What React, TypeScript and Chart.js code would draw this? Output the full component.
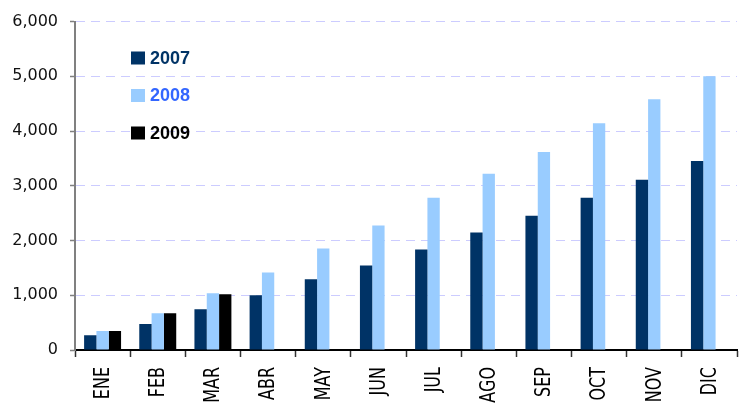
import React, { useEffect, useRef } from "react";
import { Chart, registerables } from "chart.js";

Chart.register(...registerables);

const categories = ["ENE", "FEB", "MAR", "ABR", "MAY", "JUN", "JUL", "AGO", "SEP", "OCT", "NOV", "DIC"];
const series2007 = [270, 473, 745, 1000, 1291, 1545, 1836, 2145, 2455, 2782, 3109, 3455];
const series2008 = [345, 673, 1036, 1418, 1855, 2273, 2782, 3218, 3618, 4145, 4582, 5000];
const series2009 = [345, 673, 1018, null, null, null, null, null, null, null, null, null];
const seriesLabels = ["2007", "2008", "2009"];
const seriesColors = ["#003366", "#99ccff", "#000000"];
const legendTextColors = ["#003366", "#3366ff", "#000000"];
const yTicks = [0, 1000, 2000, 3000, 4000, 5000, 6000];

const legendPlugin = {
  id: "insideLegend",
  afterDraw(chart: any) {
    const ctx = chart.ctx;
    ctx.save();
    chart.data.datasets.forEach((ds: any, i: number) => {
      const cy = 58 + i * 37.5;
      ctx.fillStyle = ds.backgroundColor;
      ctx.fillRect(131, cy - 6.5, 14, 13);
      ctx.fillStyle = legendTextColors[i];
      ctx.font = "bold 18px 'Liberation Sans', Arial, sans-serif";
      ctx.textAlign = "left";
      ctx.textBaseline = "middle";
      ctx.fillText(ds.label, 150, cy + 1);
    });
    ctx.restore();
  },
};

const xLabelPlugin = {
  id: "stretchedXLabels",
  afterDraw(chart: any) {
    const ctx = chart.ctx;
    const xs = chart.scales.x;
    const top = chart.chartArea.bottom + 17;
    ctx.save();
    ctx.fillStyle = "#000000";
    ctx.font = "16px 'DejaVu Sans', sans-serif";
    chart.data.labels.forEach((lab: string, i: number) => {
      const x = xs.getPixelForTick(i) + 1;
      ctx.save();
      ctx.translate(x, top);
      ctx.rotate(-Math.PI / 2);
      ctx.scale(1, 1.3);
      ctx.textAlign = "right";
      ctx.textBaseline = "middle";
      ctx.fillText(lab, 0, 0);
      ctx.restore();
    });
    ctx.restore();
  },
};

export default function App() {
  const ref = useRef<HTMLCanvasElement | null>(null);
  useEffect(() => {
    document.body.style.margin = "0";
    if (!ref.current) return;
    const chart = new Chart(ref.current, {
      type: "bar",
      data: {
        labels: categories,
        datasets: [series2007, series2008, series2009].map((d, i) => ({
          label: seriesLabels[i],
          data: d as any,
          backgroundColor: seriesColors[i],
          borderWidth: 0,
          categoryPercentage: 0.67,
          barPercentage: 1.0,
        })),
      },
      options: {
        responsive: false,
        animation: false,
        layout: { padding: { top: 20, right: 2, left: 0, bottom: 0 } },
        plugins: { legend: { display: false }, tooltip: { enabled: false } },
        scales: {
          x: {
            afterFit(scale: any) {
              scale.height = 55;
            },
            ticks: { display: false },
            border: { display: true, color: "#000000", width: 2 },
            grid: {
              drawOnChartArea: false,
              drawTicks: true,
              tickLength: 7,
              tickColor: "#333333",
              tickWidth: 1.5,
              offset: true,
            },
          },
          y: {
            min: 0,
            max: 6000,
            afterFit(scale: any) {
              scale.width = 75;
            },
            afterBuildTicks(scale: any) {
              scale.ticks = yTicks.map((v) => ({ value: v }));
            },
            ticks: {
              stepSize: 1000,
              padding: 12,
              color: "#111111",
              font: { family: "'DejaVu Sans', sans-serif", size: 16 },
              callback: (v: any) => Number(v).toLocaleString("en-US"),
            },
            border: { display: true, color: "#808080", width: 2, dash: [9, 6] },
            grid: {
              color: "#ccccff",
              lineWidth: 1,
              tickBorderDash: [1, 0],
              tickColor: "#808080",
              tickLength: 5,
              tickWidth: 1.5,
            } as any,
          },
        },
      },
      plugins: [legendPlugin, xLabelPlugin],
    });
    return () => chart.destroy();
  }, []);
  return (
    <div style={{ width: 739, height: 405, position: "relative" }}>
      <canvas ref={ref} width={739} height={405} style={{ display: "block" }} />
    </div>
  );
}
